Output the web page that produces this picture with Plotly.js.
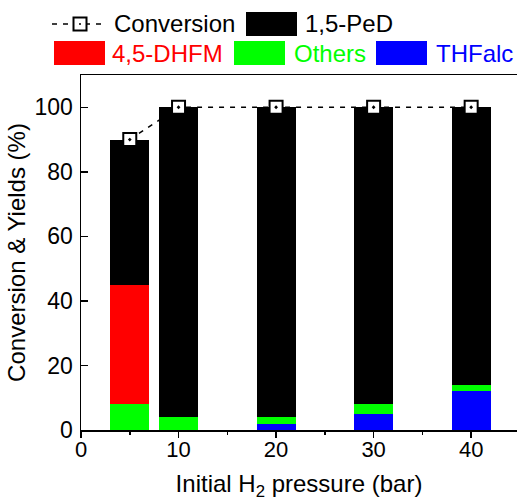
<!DOCTYPE html>
<html>
<head>
<meta charset="utf-8">
<script src="https://cdn.plot.ly/plotly-3.0.1.min.js"></script>
<style>html,body{margin:0;padding:0;background:#fff;}#chart{width:517px;height:501px;}</style>
</head>
<body>
<div id="chart"></div>
<script>
// Data
const pressure = [5, 10, 20, 30, 40];          // Initial H2 pressure (bar)
const conversion = [90, 100, 100, 100, 100];   // %
const yieldTHFalc = [0, 0, 2, 5, 12];
const yieldOthers = [8, 4, 2, 3, 2];
const yieldDHFM = [37, 0, 0, 0, 0];
const yieldPeD = [45, 96, 96, 92, 86];
const xTicks = [0, 10, 20, 30, 40];
const xMinorTicks = [5, 15, 25, 35];
const yTicks = [0, 20, 40, 60, 80, 100];

const FONT = "Liberation Sans, Arial, sans-serif";
const W = 517, H = 501;
const M = {l: 81, r: 0, t: 75, b: 71};
const PW = W - M.l - M.r, PH = H - M.t - M.b;
const px = p => (p - M.l) / PW;
const py = p => (H - M.b - p) / PH;

const barW = 4;
function barTrace(name, y, color) {
  return {type: 'bar', name: name, x: pressure, y: y, width: barW,
    marker: {color: color, line: {width: 0}}, showlegend: false, hoverinfo: 'skip'};
}

const traces = [
  barTrace('THFalc', yieldTHFalc, '#0000ff'),
  barTrace('Others', yieldOthers, '#00ff00'),
  barTrace('4,5-DHFM', yieldDHFM, '#ff0000'),
  barTrace('1,5-PeD', yieldPeD, '#000000'),
  {type: 'scatter', mode: 'lines+markers', name: 'Conversion', x: pressure, y: conversion,
   line: {color: '#000', width: 1.5, dash: '5px,6px'},
   marker: {symbol: 'square-dot', size: 13, color: '#fff', line: {color: '#000', width: 2}},
   cliponaxis: false, showlegend: false, hoverinfo: 'skip'}
];

// Custom legend (drawn in paper coordinates)
const LEG = 24;
const shapes = [];
const annotations = [];
function box(x0, x1, y0, y1, color) {
  shapes.push({type: 'rect', xref: 'paper', yref: 'paper', x0: px(x0), x1: px(x1), y0: py(y1), y1: py(y0),
    fillcolor: color, line: {width: 0}});
}
function label(x, y, text, color) {
  annotations.push({xref: 'paper', yref: 'paper', x: px(x), y: py(y), text: text, showarrow: false,
    xanchor: 'left', yanchor: 'middle', font: {family: FONT, size: LEG, color: color}});
}
// Row 1
shapes.push({type: 'line', xref: 'paper', yref: 'paper', x0: px(52), x1: px(106), y0: py(24), y1: py(24),
  line: {color: '#000', width: 1.5, dash: '5px,6px'}});
shapes.push({type: 'rect', xref: 'paper', yref: 'paper', x0: px(73.5), x1: px(86.5), y0: py(30.5), y1: py(17.5),
  fillcolor: '#fff', line: {color: '#000', width: 2}});
shapes.push({type: 'circle', xref: 'paper', yref: 'paper', x0: px(79), x1: px(81), y0: py(25), y1: py(23),
  fillcolor: '#000', line: {width: 0}});
label(112, 24, 'Conversion', '#000');
box(246, 297, 12, 36, '#000');
label(303, 24, '1,5-PeD', '#000');
// Row 2
box(54, 105, 41, 65, '#ff0000');
label(110, 53, '4,5-DHFM', '#ff0000');
box(234, 285, 41, 65, '#00ff00');
label(292, 53, 'Others', '#00ff00');
box(376, 427, 41, 65, '#0000ff');
label(434, 53, 'THFalc', '#0000ff');

const layout = {
  width: W, height: H,
  margin: M,
  paper_bgcolor: '#fff', plot_bgcolor: '#fff',
  barmode: 'stack',
  showlegend: false,
  font: {family: FONT, size: 22, color: '#000'},
  xaxis: {
    range: [0, 44.7], tickvals: xTicks, ticktext: xTicks.map(String),
    ticks: 'outside', ticklen: 6, tickwidth: 1.5, tickcolor: '#000',
    minor: {tickvals: xMinorTicks, ticks: 'outside', ticklen: 3, tickwidth: 1.5, tickcolor: '#000'},
    showline: true, linecolor: '#000', linewidth: 1.5, mirror: true,
    showgrid: false, zeroline: false,
    ticklabelstandoff: -7,
    tickfont: {family: FONT, size: 22, color: '#000'},
    title: {text: 'Initial H<sub>2</sub> pressure (bar)', font: {family: FONT, size: 24, color: '#000'}, standoff: 16}
  },
  yaxis: {
    range: [0, 110], tickvals: yTicks, ticktext: yTicks.map(String),
    ticks: 'inside', ticklen: 7, tickwidth: 1.5, tickcolor: '#000',
    showline: true, linecolor: '#000', linewidth: 1.5, mirror: false,
    showgrid: false, zeroline: false,
    ticklabelstandoff: 2,
    tickfont: {family: FONT, size: 23, color: '#000'},
    title: {text: 'Conversion & Yields (%)', font: {family: FONT, size: 24, color: '#000'}, standoff: 2}
  },
  shapes: shapes,
  annotations: annotations
};

Plotly.newPlot('chart', traces, layout, {displayModeBar: false, staticPlot: true});
</script>
</body>
</html>
